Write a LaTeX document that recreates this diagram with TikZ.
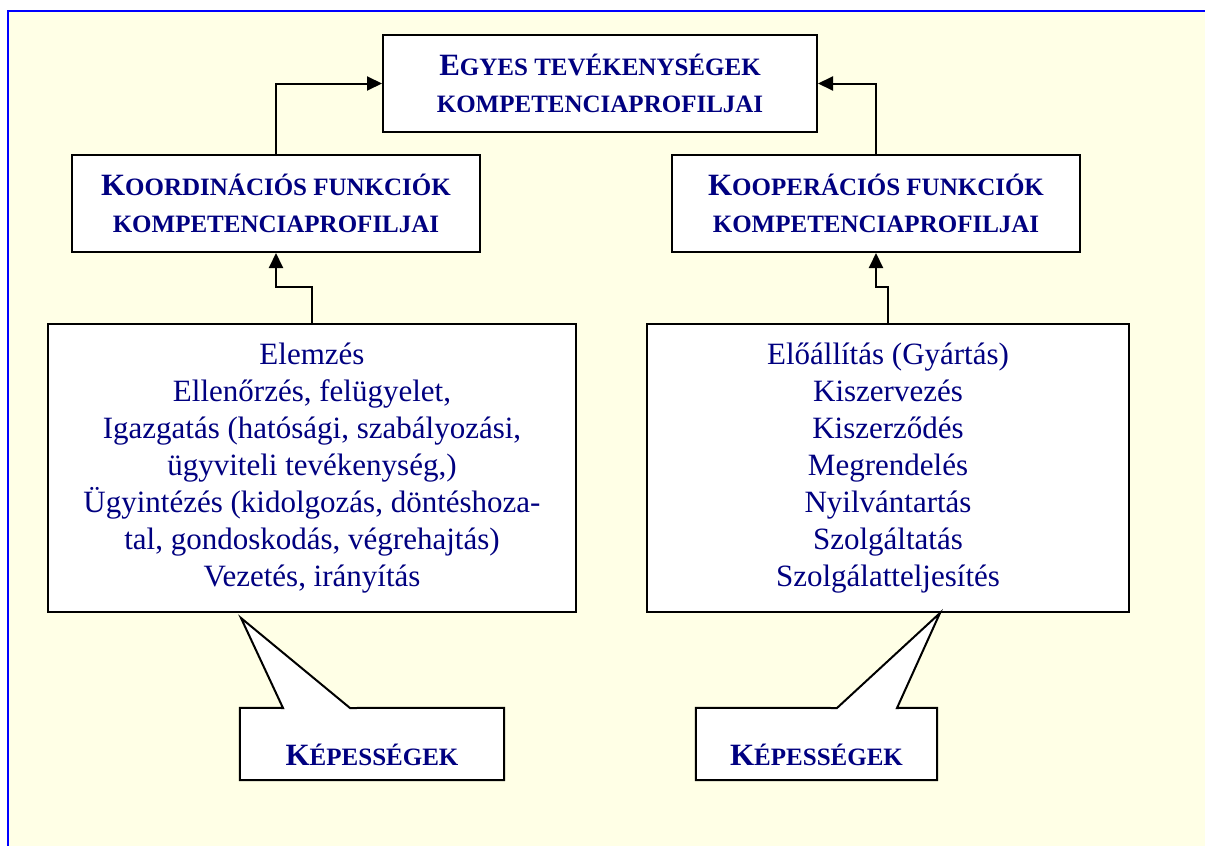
\documentclass[tikz,border=0pt]{standalone}
\usepackage{fontspec}
\setmainfont{Liberation Serif}
\usetikzlibrary{arrows.meta}
\definecolor{navy}{RGB}{0,0,128}
\definecolor{paper}{RGB}{255,255,230}
\newcommand{\smc}{\fontsize{25}{37}\selectfont}
\begin{document}
\begin{tikzpicture}[x=1pt,y=-1pt,>={Triangle[length=15pt,width=14pt]},line join=miter,
		box/.style={draw=black,line width=2pt,fill=white,inner sep=0pt,align=center,text=navy},
		head/.style={box,minimum height=97pt,font=\bfseries\fontsize{31}{37}\selectfont},
		list/.style={box,minimum height=288pt,font=\fontsize{31}{37}\selectfont},
		kep/.style={inner sep=0pt,minimum height=72pt,text height=42pt,text depth=0pt,text=navy,font=\bfseries\fontsize{31}{37}\selectfont},
		callout/.style={draw=black,line width=2pt,fill=white},
		arr/.style={->,line width=2pt}]
	\useasboundingbox (0,0) rectangle (1205,846);
	\fill [paper] (8,11) rectangle (1205,846);
	\draw [blue,line width=2pt] (8,846)--(8,11)--(1205,11);
	% profiles
	\node [head,minimum width=434pt] (egyes) at (600,83.5) {E{\smc GYES TEVÉKENYSÉGEK}\\{\smc KOMPETENCIAPROFILJAI}};
	\node [head,minimum width=408pt] (koord) at (276,203.5) {K{\smc OORDINÁCIÓS FUNKCIÓK}\\{\smc KOMPETENCIAPROFILJAI}};
	\node [head,minimum width=408pt] (koop) at (876,203.5) {K{\smc OOPERÁCIÓS FUNKCIÓK}\\{\smc KOMPETENCIAPROFILJAI}};
	% functions
	\node [list,minimum width=528pt] (koordlist) at (312,468) {Elemzés\\Ellenőrzés, felügyelet,\\Igazgatás (hatósági, szabályozási,\\ügyviteli tevékenység,)\\Ügyintézés (kidolgozás, döntéshoza-\\tal, gondoskodás, végrehajtás)\\Vezetés, irányítás};
	\node [list,minimum width=482pt] (kooplist) at (888,468) {Előállítás (Gyártás)\\Kiszervezés\\Kiszerződés\\Megrendelés\\Nyilvántartás\\Szolgáltatás\\Szolgálatteljesítés};
	\draw [arr] (koord.north) |- (egyes.west);
	\draw [arr] (koop.north) |- (egyes.east);
	\draw [arr] (koordlist.north) -- ++(0,-36) -| (koord.south);
	\draw [arr] (kooplist.north) -- ++(0,-36) -| (koop.south);
	% abilities
	\node [kep,minimum width=264pt] (kepl) at (372,744) {};
	\node [kep,minimum width=241pt] (kepr) at (816.5,744) {};
	\coordinate (tipl) at (241,618);
	\coordinate (basel1) at (283,708);
	\coordinate (basel2) at (350,708);
	\coordinate (tipr) at (940,613);
	\coordinate (baser1) at (837,708);
	\coordinate (baser2) at (897,708);
	\draw [callout] (kepl.north west)--(basel1)--(tipl)--(basel2)--(kepl.north east)|-(kepl.south west)--cycle;
	\draw [callout] (kepr.north west)--(baser1)--(tipr)--(baser2)--(kepr.north east)|-(kepr.south west)--cycle;
	\node [kep] (kepltext) at (kepl) {K{\smc ÉPESSÉGEK}};
	\node [kep] (keprtext) at (kepr) {K{\smc ÉPESSÉGEK}};
\end{tikzpicture}
\end{document}
